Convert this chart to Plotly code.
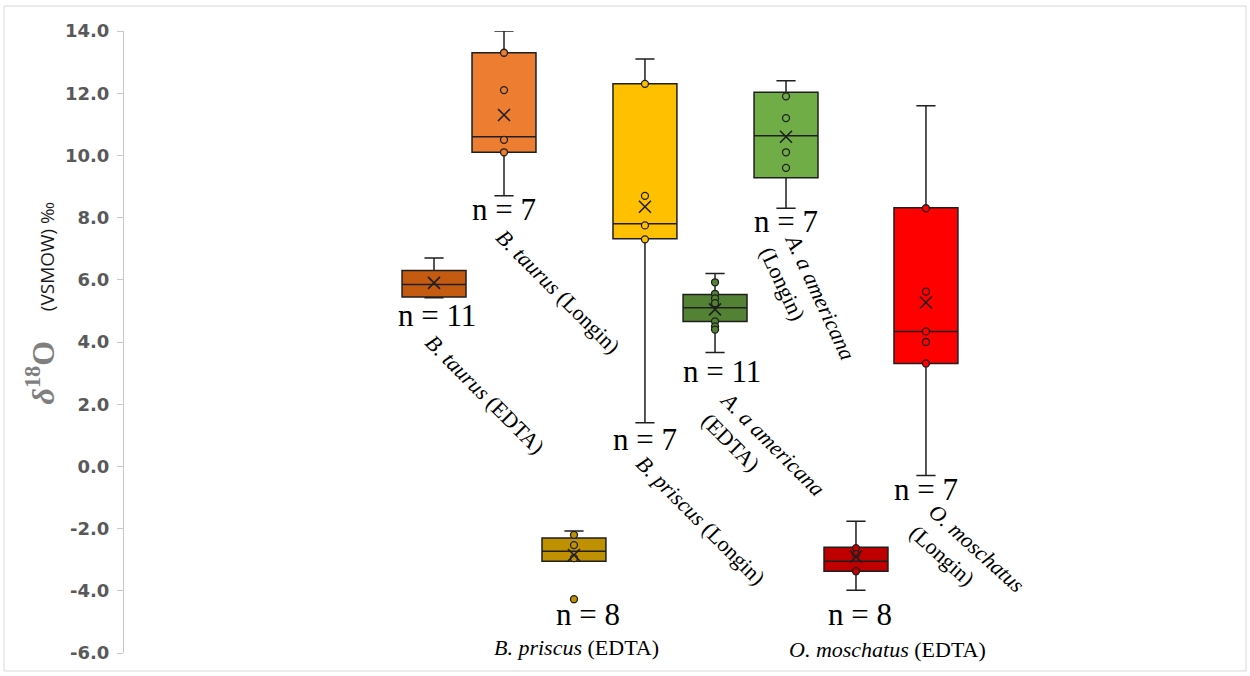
import plotly.graph_objects as go

# Groups, left to right on the chart
groups = ["B. taurus (EDTA)", "B. taurus (Longin)", "B. priscus (EDTA)", "B. priscus (Longin)",
          "A. a americana (EDTA)", "A. a americana (Longin)", "O. moschatus (EDTA)", "O. moschatus (Longin)"]
n_obs = [11, 7, 8, 7, 11, 7, 8, 7]

# Box statistics (δ18O, ‰ VSMOW)
lower_whisker = [5.42, 8.7, -3.05, 1.4, 3.66, 8.3, -3.98, -0.29]
q1 = [5.45, 10.1, -3.05, 7.32, 4.66, 9.28, -3.37, 3.31]
median = [5.85, 10.6, -2.73, 7.8, 5.1, 10.63, -3.05, 4.34]
q3 = [6.3, 13.3, -2.3, 12.3, 5.53, 12.03, -2.6, 8.32]
upper_whisker = [6.7, 14.0, -2.08, 13.1, 6.2, 12.4, -1.76, 11.6]
mean = [5.9, 11.3, -2.85, 8.35, 5.05, 10.6, -2.9, 5.27]

# Individual measurements drawn as circles
points = [
    [],
    [13.3, 12.1, 10.5, 10.1],
    [-2.2, -2.53, -2.95, -4.27],
    [12.3, 8.7, 7.75, 7.3],
    [5.92, 5.55, 5.4, 5.25, 4.66, 4.5, 4.4],
    [11.9, 11.2, 10.1, 9.6],
    [-2.63, -2.82, -3.37],
    [8.3, 5.62, 4.34, 4.0, 3.31],
]

y_tick_values = [-6, -4, -2, 0, 2, 4, 6, 8, 10, 12, 14]
y_tick_labels = ["-6.0", "-4.0", "-2.0", "0.0", "2.0", "4.0", "6.0", "8.0", "10.0", "12.0", "14.0"]

# Layout: horizontal slot of each box (x axis runs 0-100, hidden)
slot = [27.78, 34.05, 40.32, 46.68, 52.96, 59.32, 65.59, 71.86]
colors = ["#C55A11", "#ED7D31", "#BF9000", "#FFC000", "#548235", "#70AD47", "#C00000", "#FF0000"]
box_width = 5.73
edge = "#1f1f1f"

fig = go.Figure()

for i, name in enumerate(groups):
    fig.add_trace(go.Box(
        x=[slot[i]], q1=[q1[i]], median=[median[i]], q3=[q3[i]],
        lowerfence=[lower_whisker[i]], upperfence=[upper_whisker[i]],
        name=name, width=box_width, whiskerwidth=0.3,
        fillcolor=colors[i], line=dict(color=edge, width=1.5),
        boxpoints=False, hoverinfo="y", showlegend=False,
    ))
    if points[i]:
        fig.add_trace(go.Scatter(
            x=[slot[i]] * len(points[i]), y=points[i], mode="markers",
            marker=dict(size=7, color=colors[i], line=dict(color=edge, width=1.3)),
            showlegend=False, hoverinfo="y",
        ))
    fig.add_trace(go.Scatter(
        x=[slot[i]], y=[mean[i]], mode="markers",
        marker=dict(symbol="x-thin", size=12, line=dict(color=edge, width=1.6)),
        showlegend=False, hoverinfo="y",
    ))

serif = "Liberation Serif"

# "n = ..." labels (x, y in axis units)
n_pos = [(28.05, 4.85), (34.05, 8.25), (41.58, -4.75), (46.68, 0.87),
         (53.58, 3.05), (59.32, 7.87), (65.95, -4.75), (71.86, -0.74)]
for i, (x, y) in enumerate(n_pos):
    fig.add_annotation(x=x, y=y, xref="x", yref="y", text=f"n = {n_obs[i]}",
                       showarrow=False, font=dict(family=serif, size=31, color="#000000"))

# Group names: (text, x, y, angle)
name_labels = [
    ("<i>B. taurus</i> (EDTA)", 32.35, 2.31, 45),
    ("<i>B. taurus</i> (Longin)", 38.89, 5.62, 45),
    ("<i>B. priscus</i> (EDTA)", 40.59, -5.81, 0),
    ("<i>B. priscus</i> (Longin)", 51.7, -1.73, 45),
    ("<i>A. a americana</i><br>(EDTA)", 57.2, 0.4, 45),
    ("<i>A. a americana</i><br>(Longin)", 61.2, 5.25, 65),
    ("<i>O. moschatus</i> (EDTA)", 68.37, -5.9, 0),
    ("<i>O. moschatus</i><br>(Longin)", 75.54, -2.98, 42),
]
for text, x, y, ang in name_labels:
    fig.add_annotation(x=x, y=y, xref="x", yref="y", text=text, textangle=ang,
                       showarrow=False, align="left",
                       font=dict(family=serif, size=22, color="#000000"))

# Axis title
fig.add_annotation(
    x=-0.095, y=0.5635, xref="paper", yref="paper", textangle=-90, showarrow=False,
    font=dict(family="Open Sans", size=19, color="#1a1a1a"),
    text=("<span style='font-family:Liberation Serif;font-size:32px;color:#7F7F7F'>"
          "<b><i>δ</i><sup>18</sup>O</b></span>"
          "\u00a0\u00a0\u00a0\u00a0\u00a0\u00a0"
          "(VSMOW) ‰"),
)

# Light frame round the chart
fig.add_shape(type="rect", xref="paper", yref="paper",
              x0=-0.1075, x1=1.0054, y0=-0.0289, y1=1.0402,
              line=dict(color="#D9D9D9", width=1), fillcolor="rgba(0,0,0,0)", layer="below")

fig.update_layout(
    width=1250, height=676,
    margin=dict(l=124, r=10, t=31, b=23),
    paper_bgcolor="white", plot_bgcolor="white",
    boxmode="overlay",
    xaxis=dict(range=[0, 100], visible=False),
    yaxis=dict(
        range=[-6, 14], tickvals=y_tick_values, ticktext=y_tick_labels,
        showgrid=False, zeroline=False,
        showline=True, linecolor="#C8C8C8", linewidth=1,
        ticks="outside", ticklen=6, tickcolor="#C8C8C8", ticklabelstandoff=4,
        tickfont=dict(family="DejaVu Sans", size=18, color="#595959", weight="bold"),
    ),
)

fig.write_html("out.html")
